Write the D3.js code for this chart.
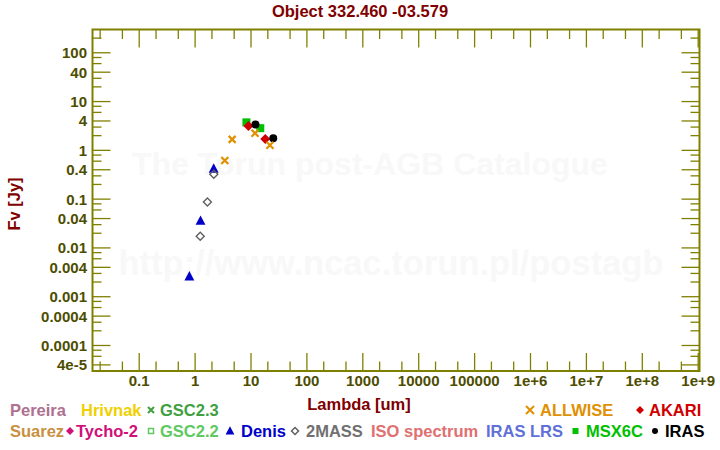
<!DOCTYPE html>
<html><head><meta charset="utf-8">
<script src="https://cdn.jsdelivr.net/npm/d3@7"></script>
<style>body{margin:0;background:#fff}svg{display:block;font-family:"Liberation Sans",Arial,sans-serif;font-weight:bold}</style>
</head><body><svg id="c" width="720" height="450"></svg>
<script>
// ---- data ----
const denisLambda = [0.79, 1.25, 2.15];
const denisFlux = [0.0026, 0.036, 0.42];
const twomassLambda = [1.235, 1.66, 2.16];
const twomassFlux = [0.0174, 0.087, 0.325];
const allwiseLambda = [3.4, 4.6, 11.8, 21.8];
const allwiseFlux = [0.62, 1.68, 2.25, 1.27];
const msxLambda = [8.28, 14.65];
const msxFlux = [3.75, 2.85];
const akariLambda = [9, 18];
const akariFlux = [3.15, 1.7];
const irasLambda = [12, 25];
const irasFlux = [3.4, 1.77];
const xTickLabels = ["0.1","1","10","100","1000","10000","100000","1e+6","1e+7","1e+8","1e+9"];
const xTickValues = [0.1,1,10,100,1000,1e4,1e5,1e6,1e7,1e8,1e9];
const yTickLabels = ["100","40","10","4","1","0.4","0.1","0.04","0.01","0.004","0.001","0.0004","0.0001","4e-5"];
const yTickValues = [100,40,10,4,1,0.4,0.1,0.04,0.01,0.004,0.001,0.0004,0.0001,4e-5];

const svg = d3.select("#c");
const L = 92.5, R = 699.5, T = 29.5, B = 371;
const x = d3.scaleLog().domain([0.0146, 1.055e9]).range([L, R]);
const y = d3.scaleLog().domain([3e-5, 300]).range([B, T]);
const olive = "#808000", labCol = "#4d4d00", dark = "#800000";

// watermark
svg.append("text").attr("x", 370).attr("y", 175).attr("text-anchor","middle")
  .attr("font-size", 32).attr("fill", "#f8f8f8").text("The Torun post-AGB Catalogue");
svg.append("text").attr("x", 391).attr("y", 275).attr("text-anchor","middle")
  .attr("font-size", 34.5).attr("fill", "#f8f8f8").text("http://www.ncac.torun.pl/postagb");

// title
svg.append("text").attr("x", 360).attr("y", 17).attr("text-anchor","middle")
  .attr("font-size", 16.5).attr("fill", dark).text("Object 332.460 -03.579");

// ticks
const xMinor = [], yMinor = [];
for (let e = -2; e <= 9; e++) [2,5].forEach(m => { const v = m*Math.pow(10,e); if (v > x.domain()[0] && v < x.domain()[1]) xMinor.push(v); });
for (let e = -5; e <= 2; e++) [2,3,6,8].forEach(m => { const v = m*Math.pow(10,e); if (v > y.domain()[0] && v < y.domain()[1]) yMinor.push(v); });
const xMajor = [0.01].concat(xTickValues).filter(v => v > x.domain()[0]);
const yMajor = [];
for (let e = -5; e <= 2; e++) [1,4].forEach(m => { const v = m*Math.pow(10,e); if (v > y.domain()[0] && v < y.domain()[1]) yMajor.push(v); });

const tk = svg.append("g").attr("stroke", olive).attr("stroke-width", 1.3);
function xt(vals, len) {
  vals.forEach(v => {
    const px = x(v);
    tk.append("line").attr("x1", px).attr("x2", px).attr("y1", B).attr("y2", B - len);
    tk.append("line").attr("x1", px).attr("x2", px).attr("y1", T).attr("y2", T + len);
  });
}
function yt(vals, len) {
  vals.forEach(v => {
    const py = y(v);
    tk.append("line").attr("y1", py).attr("y2", py).attr("x1", L).attr("x2", L + len);
    tk.append("line").attr("y1", py).attr("y2", py).attr("x1", R).attr("x2", R - len);
  });
}
xt(xMinor, 9.5); xt(xMajor, 18); yt(yMinor, 9); yt(yMajor, 18);

// frame
svg.append("rect").attr("x", L).attr("y", T).attr("width", R - L).attr("height", B - T)
  .attr("fill", "none").attr("stroke", olive).attr("stroke-width", 2);

// tick labels
svg.append("g").selectAll("text").data(xTickValues).join("text")
  .attr("x", d => x(d)).attr("y", 386).attr("text-anchor","middle")
  .attr("font-size", 15).attr("fill", labCol).text((d,i) => xTickLabels[i]);
svg.append("g").selectAll("text").data(yTickValues).join("text")
  .attr("x", 87).attr("y", d => y(d)).attr("dy", "0.36em").attr("text-anchor","end")
  .attr("font-size", 15).attr("fill", labCol).text((d,i) => yTickLabels[i]);

// axis titles
svg.append("text").attr("x", 359).attr("y", 410).attr("text-anchor","middle")
  .attr("font-size", 16.5).attr("fill", dark).text("Lambda [um]");
svg.append("text").attr("transform", "translate(20,204) rotate(-90)").attr("text-anchor","middle")
  .attr("font-size", 16.5).attr("fill", dark).text("Fv [Jy]");

// marker shapes
const shapes = {
  tri: s => `M0,${-s*0.6}L${s*0.55},${s*0.45}L${-s*0.55},${s*0.45}Z`,
  dia: s => `M0,${-s/2}L${s/2},0L0,${s/2}L${-s/2},0Z`,
  sq: s => `M${-s/2},${-s/2}h${s}v${s}h${-s}Z`,
  cross: s => `M${-s/2},${-s/2}L${s/2},${s/2}M${s/2},${-s/2}L${-s/2},${s/2}`
};
function series(lam, flux, shape, size, fill, stroke, sw) {
  svg.append("g").selectAll("path").data(lam).join("path")
    .attr("transform", (d,i) => `translate(${x(d)},${y(flux[i])})`)
    .attr("d", shapes[shape](size))
    .attr("fill", fill).attr("stroke", stroke).attr("stroke-width", sw);
}
series(denisLambda, denisFlux, "tri", 9, "#0000c8", "none", 0);
series(twomassLambda, twomassFlux, "dia", 8, "none", "#606060", 1.4);
series(msxLambda, msxFlux, "sq", 8, "#00c000", "none", 0);
series(akariLambda, akariFlux, "dia", 10, "#d00000", "none", 0);
svg.append("g").selectAll("circle").data(irasLambda).join("circle")
  .attr("cx", d => x(d)).attr("cy", (d,i) => y(irasFlux[i])).attr("r", 4).attr("fill", "#000");
series(allwiseLambda, allwiseFlux, "cross", 7, "none", "#e09000", 2.2);

// legend
const legend = [
  {t:"Pereira", c:"#b07090", x:10, y:416},
  {t:"Hrivnak", c:"#f0d000", x:81, y:416},
  {t:"GSC2.3", c:"#40a040", x:160, y:416, m:"cross", mx:151, mf:"none", ms:"#40a040", sz:6},
  {t:"ALLWISE", c:"#e09000", x:540, y:416, m:"cross", mx:530, mf:"none", ms:"#e09000", sz:8},
  {t:"AKARI", c:"#d00000", x:649, y:416, m:"dia", mx:640, mf:"#d00000", ms:"none", sz:8},
  {t:"Suarez", c:"#c89040", x:10, y:437},
  {t:"Tycho-2", c:"#d0107a", x:76, y:437, m:"dia", mx:70, mf:"#d0107a", ms:"none", sz:8},
  {t:"GSC2.2", c:"#60c860", x:160, y:437, m:"sq", mx:151, mf:"none", ms:"#60c860", sz:5},
  {t:"Denis", c:"#0000c8", x:241, y:437, m:"tri", mx:230, mf:"#0000c8", ms:"none", sz:8},
  {t:"2MASS", c:"#707070", x:306, y:437, m:"dia", mx:295, mf:"none", ms:"#606060", sz:7},
  {t:"ISO spectrum", c:"#e07070", x:371, y:437},
  {t:"IRAS LRS", c:"#6070d8", x:486, y:437},
  {t:"MSX6C", c:"#00c000", x:586, y:437, m:"sq", mx:575.5, mf:"#00c000", ms:"none", sz:6},
  {t:"IRAS", c:"#000000", x:665, y:437, m:"circ", mx:655, mf:"#000", ms:"none", sz:6}
];
const lg = svg.append("g");
legend.forEach(d => {
  lg.append("text").attr("x", d.x).attr("y", d.y).attr("font-size", 16.5).attr("fill", d.c).text(d.t);
  if (d.m) {
    const cy = d.y - 6;
    if (d.m === "circ") lg.append("circle").attr("cx", d.mx).attr("cy", cy).attr("r", d.sz/2).attr("fill", d.mf);
    else lg.append("path").attr("transform", `translate(${d.mx},${cy})`).attr("d", shapes[d.m](d.sz))
      .attr("fill", d.mf).attr("stroke", d.ms).attr("stroke-width", d.m === "cross" ? 2 : 1.5);
  }
});
</script></body></html>
